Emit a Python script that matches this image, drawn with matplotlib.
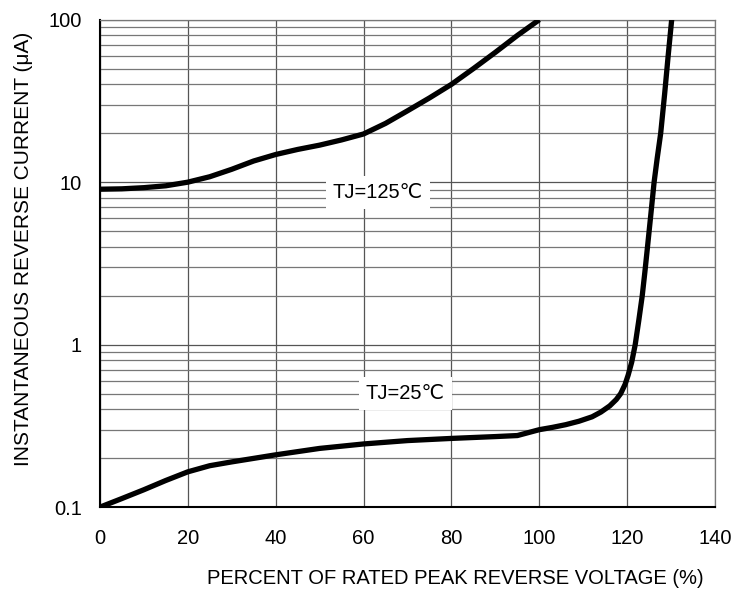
import matplotlib
matplotlib.use("Agg")
import matplotlib.pyplot as plt
from matplotlib.ticker import LogLocator, NullFormatter, FixedLocator, FixedFormatter

plt.rcParams['font.family'] = ['Liberation Sans', 'DejaVu Sans', 'Noto Sans CJK SC']

# percent of rated peak reverse voltage vs reverse current (uA)
v_125 = [0, 5, 10, 15, 20, 25, 30, 35, 40, 45, 50, 55, 60, 65, 70, 75, 80,
         85, 90, 95, 100]
i_125 = [9.05, 9.1, 9.25, 9.5, 10.0, 10.8, 12.0, 13.5, 14.8, 15.9, 16.9, 18.2,
         19.8, 23.0, 27.5, 33.0, 40.0, 50.0, 63.0, 80.0, 100.0]

v_25 = [0, 5, 10, 15, 20, 25, 30, 40, 50, 60, 70, 80, 90, 95, 100, 103, 106,
        109, 112, 114, 116, 117.5, 118.5, 119.5, 120.2, 121, 121.8, 122.6,
        123.4, 124, 124.6, 125.4, 126.1, 126.8, 127.6, 128.5, 129.3, 130.1]
i_25 = [0.1, 0.113, 0.128, 0.146, 0.165, 0.18, 0.19, 0.21, 0.23, 0.245, 0.257,
        0.265, 0.272, 0.276, 0.30, 0.31, 0.322, 0.338, 0.36, 0.385, 0.42, 0.46,
        0.50, 0.57, 0.65, 0.78, 1.0, 1.4, 2.0, 2.8, 4.0, 6.5, 10.0, 14.0, 20.0,
        35.0, 60.0, 100.0]

y_ticks = [0.1, 1, 10, 100]
y_labels = ["0.1", "1", "10", "100"]
x_ticks = [0, 20, 40, 60, 80, 100, 120, 140]

fs = 14.5

fig = plt.figure(figsize=(7.45, 5.96), dpi=100)
ax = fig.add_axes([0.134, 0.149, 0.826, 0.818])

ax.set_yscale('log')
ax.set_xlim(0, 140)
ax.set_ylim(0.1, 100)

ax.yaxis.set_major_locator(FixedLocator(y_ticks))
ax.yaxis.set_major_formatter(FixedFormatter(y_labels))
ax.yaxis.set_minor_locator(LogLocator(base=10, subs=range(2, 10)))
ax.yaxis.set_minor_formatter(NullFormatter())
ax.set_xticks(x_ticks)

ax.grid(True, which='major', color='#555555', lw=0.9)
ax.grid(True, which='minor', axis='y', color='#777777', lw=0.9)
ax.set_axisbelow(True)

ax.tick_params(which='both', length=0, labelsize=fs)
ax.tick_params(axis='x', pad=16)
ax.tick_params(axis='y', pad=13)

for s in ['top', 'right']:
    ax.spines[s].set_color('#777777')
    ax.spines[s].set_linewidth(0.9)
for s in ['left', 'bottom']:
    ax.spines[s].set_color('black')
    ax.spines[s].set_linewidth(1.5)

ax.plot(v_125, i_125, color='black', lw=3.8, solid_joinstyle='round',
        solid_capstyle='butt', zorder=3)
ax.plot(v_25, i_25, color='black', lw=3.8, solid_joinstyle='round',
        solid_capstyle='butt', zorder=3)

box = dict(facecolor='white', edgecolor='none', pad=5)
ax.text(63.3, 8.6, "TJ=125\u2103", fontsize=fs, ha='center', va='center',
        bbox=box, zorder=4)
ax.text(69.5, 0.5, "TJ=25\u2103", fontsize=fs, ha='center', va='center',
        bbox=box, zorder=4)

ax.set_xlabel("PERCENT OF RATED PEAK REVERSE VOLTAGE (%)", fontsize=fs,
              labelpad=15, x=0.577)
ax.set_ylabel("INSTANTANEOUS REVERSE CURRENT (\u03bcA)", fontsize=15,
              labelpad=11, y=0.53)

fig.savefig("out.png", dpi=100)
